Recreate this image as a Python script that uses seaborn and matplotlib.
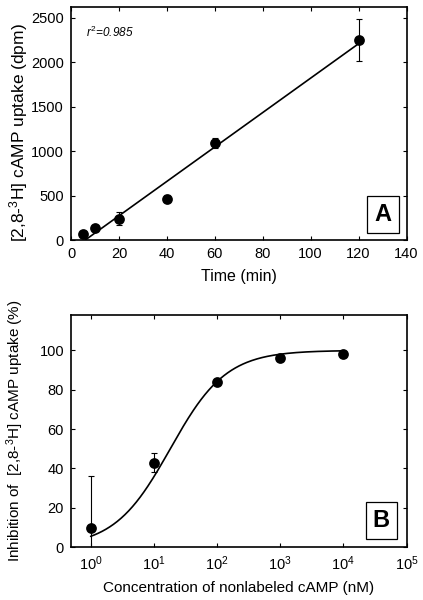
"""
cAMP uptake: time course (A) and competition by nonlabeled cAMP (B)
"""
import numpy as np
import pandas as pd
import matplotlib
matplotlib.use('Agg')
import matplotlib.pyplot as plt
import seaborn as sns

# Panel A: time course
time_min = [5, 10, 20, 40, 60, 120]
uptake_dpm = [70, 135, 240, 465, 1090, 2250]
uptake_err = [20, 20, 75, 40, 60, 240]

# Panel B: inhibition by nonlabeled cAMP
conc_nM = [1, 10, 100, 1000, 10000]
inhibition_pct = [10, 43, 84, 96, 98]
inhibition_err = [26, 5, 0, 0, 0]

# fitted Hill curve parameters (as drawn in the figure)
ic50_nM = 18.2
hill_n = 0.98

sns.set_style('ticks')
plt.rcParams['font.family'] = ['Liberation Sans', 'DejaVu Sans']
plt.rcParams['mathtext.fontset'] = 'custom'
plt.rcParams['mathtext.rm'] = 'Liberation Sans'
plt.rcParams['mathtext.it'] = 'Liberation Sans:italic'
plt.rcParams['axes.linewidth'] = 1.2
plt.rcParams['xtick.direction'] = 'in'
plt.rcParams['ytick.direction'] = 'in'
plt.rcParams['text.color'] = 'black'
plt.rcParams['axes.labelcolor'] = 'black'

fig = plt.figure(figsize=(4.23, 6.0), dpi=100)
ax1 = fig.add_axes([0.168, 0.600, 0.793, 0.388])
ax2 = fig.add_axes([0.168, 0.088, 0.793, 0.387])

# ---------- A ----------
df_a = pd.DataFrame({'Time': time_min, 'Uptake': uptake_dpm, 'Err': uptake_err})
slope, intercept = np.polyfit(df_a['Time'], df_a['Uptake'], 1)
x0 = -intercept / slope
ax1.plot([x0, 120], [0, slope * 120 + intercept], color='black', linewidth=1.2)
ax1.errorbar(df_a['Time'], df_a['Uptake'], yerr=df_a['Err'], fmt='none',
             ecolor='black', elinewidth=0.8, capsize=2.5, capthick=0.8)
sns.scatterplot(data=df_a, x='Time', y='Uptake', ax=ax1, color='black',
                s=60, edgecolor='black', linewidth=0, zorder=5)
ax1.set_xlim(0, 140)
ax1.set_ylim(0, 2620)
ax1.set_xticks(np.arange(0, 141, 20))
ax1.set_yticks(np.arange(0, 2501, 500))
ax1.set_xlabel('Time (min)', fontsize=11.5, labelpad=6)
ax1.set_ylabel('[2,8-$^3$H] cAMP uptake (dpm)', fontsize=12.5)
ax1.yaxis.set_label_coords(-0.122, 0.46)
ax1.text(0.045, 0.89, '$\\mathit{r}^2$=0.985', transform=ax1.transAxes,
         fontsize=8.5, fontstyle='italic', ha='left', va='center')
ax1.text(0.93, 0.11, 'A', transform=ax1.transAxes, fontsize=17, fontweight='bold',
         ha='center', va='center',
         bbox=dict(boxstyle='square,pad=0.3', facecolor='white', edgecolor='black', linewidth=0.9))

# ---------- B ----------
df_b = pd.DataFrame({'Conc': conc_nM, 'Inhib': inhibition_pct, 'Err': inhibition_err})
xs = np.logspace(0, 4, 200)
ax2.plot(xs, 100 / (1 + (ic50_nM / xs) ** hill_n), color='black', linewidth=1.2)
mask = df_b['Err'] > 0
ax2.errorbar(df_b['Conc'][mask], df_b['Inhib'][mask], yerr=df_b['Err'][mask], fmt='none',
             ecolor='black', elinewidth=0.8, capsize=2.5, capthick=0.8)
sns.scatterplot(data=df_b, x='Conc', y='Inhib', ax=ax2, color='black',
                s=60, edgecolor='black', linewidth=0, zorder=5)
ax2.set_xscale('log')
ax2.set_xlim(0.49, 1e5)
ax2.set_ylim(0, 118)
ax2.set_xticks([1, 10, 100, 1000, 10000, 100000])
ax2.set_xticklabels(['10$^{%d}$' % i for i in range(6)])
ax2.xaxis.set_minor_locator(matplotlib.ticker.NullLocator())
ax2.set_yticks(np.arange(0, 101, 20))
ax2.set_xlabel('Concentration of nonlabeled cAMP (nM)', fontsize=11, labelpad=6)
ax2.set_ylabel('Inhibition of  [2,8-$^3$H] cAMP uptake (%)', fontsize=11)
ax2.yaxis.set_label_coords(-0.134, 0.5)
ax2.text(0.925, 0.114, 'B', transform=ax2.transAxes, fontsize=17, fontweight='bold',
         ha='center', va='center',
         bbox=dict(boxstyle='square,pad=0.3', facecolor='white', edgecolor='black', linewidth=0.9))

for ax in (ax1, ax2):
    ax.tick_params(which='both', top=True, right=True, length=3, width=0.8,
                   labelsize=10.5, colors='black', pad=5)
    for sp in ax.spines.values():
        sp.set_visible(True)
        sp.set_color('black')

plt.savefig('out.png', dpi=100)
